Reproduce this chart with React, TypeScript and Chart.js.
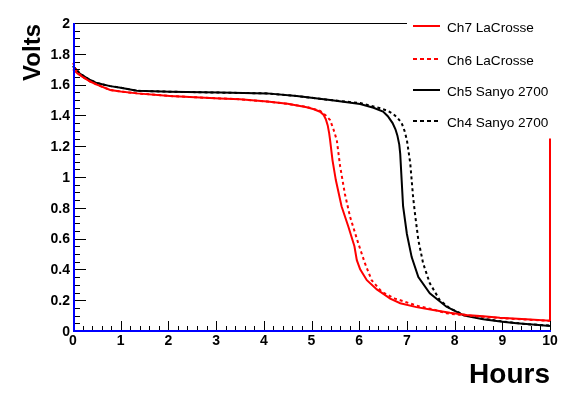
import React, { useEffect, useRef } from "react";
import { Chart, registerables } from "chart.js";

Chart.register(...registerables);

// ---- Data ----
const ch7Hours = [0, 0.1, 0.2, 0.36, 0.5, 0.78, 1.0, 1.34, 2.03, 3.08, 3.5, 4.07, 4.5, 4.9, 5.05, 5.18, 5.25, 5.3, 5.34, 5.37, 5.39, 5.44, 5.51, 5.63, 5.77, 5.9, 5.95, 6.02, 6.16, 6.37, 6.65, 6.86, 7.2, 7.55, 7.9, 8.25, 8.6, 8.95, 9.5, 10.0, 10.0];
const ch7Volts = [1.70, 1.67, 1.65, 1.62, 1.60, 1.565, 1.555, 1.543, 1.526, 1.51, 1.505, 1.49, 1.475, 1.453, 1.44, 1.424, 1.405, 1.375, 1.335, 1.285, 1.24, 1.11, 0.98, 0.81, 0.68, 0.55, 0.46, 0.40, 0.33, 0.27, 0.21, 0.18, 0.155, 0.136, 0.118, 0.104, 0.095, 0.086, 0.076, 0.067, 1.25];

const ch6Hours = [0, 0.1, 0.2, 0.36, 0.5, 0.78, 1.0, 1.34, 2.03, 3.08, 3.5, 4.07, 4.5, 4.9, 5.18, 5.3, 5.39, 5.46, 5.53, 5.6, 5.7, 5.81, 5.98, 6.12, 6.26, 6.47, 6.75, 6.86, 7.2, 7.55, 7.83, 8.25, 8.6, 8.95, 9.5, 10.0];
const ch6Volts = [1.74, 1.68, 1.65, 1.62, 1.60, 1.565, 1.555, 1.543, 1.526, 1.51, 1.505, 1.49, 1.475, 1.455, 1.43, 1.40, 1.37, 1.31, 1.24, 1.07, 0.89, 0.74, 0.57, 0.44, 0.33, 0.255, 0.21, 0.20, 0.165, 0.14, 0.115, 0.10, 0.092, 0.084, 0.074, 0.066];

const ch5Hours = [0, 0.15, 0.36, 0.5, 0.78, 1.0, 1.34, 2.03, 3.08, 4.07, 4.69, 5.39, 6.02, 6.3, 6.5, 6.6, 6.7, 6.76, 6.8, 6.84, 6.86, 6.89, 6.92, 7.0, 7.1, 7.24, 7.48, 7.83, 8.2, 8.6, 9.0, 9.3, 9.7, 10.0];
const ch5Volts = [1.72, 1.67, 1.63, 1.61, 1.59, 1.58, 1.56, 1.554, 1.548, 1.543, 1.526, 1.50, 1.474, 1.45, 1.425, 1.395, 1.35, 1.31, 1.27, 1.21, 1.15, 0.98, 0.81, 0.63, 0.48, 0.35, 0.245, 0.158, 0.10, 0.076, 0.06, 0.05, 0.04, 0.032];

const ch4Hours = [0, 0.15, 0.36, 0.5, 0.78, 1.0, 1.34, 2.03, 3.08, 4.07, 4.69, 5.39, 6.02, 6.44, 6.6, 6.71, 6.8, 6.89, 6.95, 7.0, 7.07, 7.13, 7.17, 7.24, 7.34, 7.48, 7.69, 7.9, 8.2, 8.6, 9.0, 9.5, 10.0];
const ch4Volts = [1.72, 1.67, 1.63, 1.61, 1.59, 1.58, 1.56, 1.554, 1.548, 1.543, 1.526, 1.50, 1.48, 1.446, 1.43, 1.41, 1.385, 1.35, 1.30, 1.24, 1.09, 0.87, 0.76, 0.59, 0.44, 0.31, 0.20, 0.147, 0.105, 0.08, 0.062, 0.045, 0.035];

const seriesNames = ["Ch7 LaCrosse", "Ch6 LaCrosse", "Ch5 Sanyo 2700", "Ch4 Sanyo 2700"];
const seriesColors = ["#ff0000", "#ff0000", "#000000", "#000000"];
const seriesDotted = [false, true, false, true];

const xTickLabels = ["0", "1", "2", "3", "4", "5", "6", "7", "8", "9", "10"];
const yTickLabels = ["0", "0.2", "0.4", "0.6", "0.8", "1", "1.2", "1.4", "1.6", "1.8", "2"];

const xTitle = "Hours";
const yTitle = "Volts";

const toPoints = (xs: number[], ys: number[]) => xs.map((x, i) => ({ x, y: ys[i] }));

const FONT = '"Liberation Sans", Arial, Helvetica, sans-serif';

const rootStyle = {
  id: "rootStyle",
  afterDatasetsDraw(chart: any) {
    const { ctx, chartArea: a, scales } = chart;
    const xs = scales.x;
    const ys = scales.y;
    const line = (x1: number, y1: number, x2: number, y2: number) => {
      ctx.beginPath();
      ctx.moveTo(x1, y1);
      ctx.lineTo(x2, y2);
      ctx.stroke();
    };
    ctx.save();
    ctx.setLineDash([]);
    // top frame
    ctx.strokeStyle = "#000";
    ctx.lineWidth = 1;
    line(a.left, a.top + 0.5, a.right, a.top + 0.5);

    // y ticks (inside)
    for (let i = 0; i <= 40; i++) {
      const v = i * 0.05;
      const py = Math.round(ys.getPixelForValue(v)) + 0.5;
      const len = i % 4 === 0 ? 13 : 7;
      line(a.left, py, a.left + len, py);
    }
    // x ticks (inside)
    for (let i = 0; i <= 50; i++) {
      const v = i * 0.2;
      const px = Math.round(xs.getPixelForValue(v)) + 0.5;
      const len = i % 5 === 0 ? 10 : 5;
      line(px, a.bottom, px, a.bottom - len);
    }

    // blue axes
    ctx.strokeStyle = "#0000ff";
    ctx.lineWidth = 2;
    line(a.left + 1, a.top, a.left + 1, a.bottom + 1);
    line(a.left, a.bottom, a.right + 1, a.bottom);

    // tick labels
    ctx.fillStyle = "#000";
    ctx.font = `bold 14px ${FONT}`;
    ctx.textAlign = "right";
    ctx.textBaseline = "middle";
    yTickLabels.forEach((lab, i) => {
      ctx.fillText(lab, 70, ys.getPixelForValue(i * 0.2) + 1);
    });
    ctx.textAlign = "center";
    ctx.textBaseline = "top";
    xTickLabels.forEach((lab, i) => {
      ctx.fillText(lab, xs.getPixelForValue(i), 334);
    });

    // axis titles
    ctx.font = `bold 28px ${FONT}`;
    ctx.textAlign = "right";
    ctx.textBaseline = "alphabetic";
    ctx.fillText(xTitle, a.right, 383);

    ctx.save();
    ctx.translate(40, 24);
    ctx.rotate(-Math.PI / 2);
    ctx.font = `bold 24px ${FONT}`;
    ctx.textAlign = "right";
    ctx.textBaseline = "alphabetic";
    ctx.fillText(yTitle, 0, 0);
    ctx.restore();

    // legend
    ctx.fillStyle = "#fff";
    ctx.fillRect(407, 0, 180, 137);
    const rowsY = [26, 59, 90, 121];
    ctx.font = `13.6px ${FONT}`;
    ctx.textAlign = "left";
    ctx.textBaseline = "alphabetic";
    seriesNames.forEach((name, i) => {
      ctx.strokeStyle = seriesColors[i];
      ctx.lineWidth = 2;
      ctx.setLineDash(seriesDotted[i] ? [4, 3] : []);
      line(413, rowsY[i], 440, rowsY[i]);
      ctx.setLineDash([]);
      ctx.fillStyle = "#000";
      ctx.fillText(name, 447, rowsY[i] + 5.5);
    });
    ctx.restore();
  },
};

export default function App() {
  const ref = useRef<HTMLCanvasElement | null>(null);
  useEffect(() => {
    if (!ref.current) return;
    const seriesData = [
      toPoints(ch7Hours, ch7Volts),
      toPoints(ch6Hours, ch6Volts),
      toPoints(ch5Hours, ch5Volts),
      toPoints(ch4Hours, ch4Volts),
    ];
    const chart = new Chart(ref.current, {
      type: "line",
      data: {
        datasets: seriesNames.map((name, i) => ({
          label: name,
          data: seriesData[i],
          borderColor: seriesColors[i],
          backgroundColor: seriesColors[i],
          borderWidth: 2,
          borderDash: seriesDotted[i] ? [3, 3] : [],
          pointRadius: 0,
          tension: 0,
          fill: false,
          clip: false as any,
        })),
      },
      options: {
        responsive: false,
        animation: false,
        events: [],
        layout: { padding: { left: 73, right: 37, top: 23, bottom: 63 } },
        plugins: { legend: { display: false }, tooltip: { enabled: false } },
        scales: {
          x: { type: "linear", min: 0, max: 10, display: false },
          y: { type: "linear", min: 0, max: 2, display: false },
        },
      },
      plugins: [rootStyle],
    });
    return () => chart.destroy();
  }, []);
  return (
    <div style={{ position: "fixed", left: 0, top: 0, background: "#fff" }}>
      <canvas ref={ref} width={587} height={394} style={{ display: "block" }} />
    </div>
  );
}
